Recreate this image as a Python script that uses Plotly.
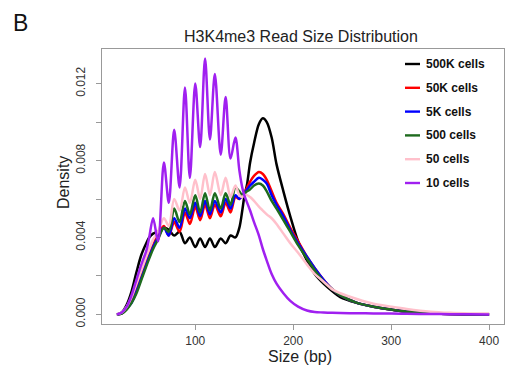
import plotly.graph_objects as go

size_bp = [20, 25, 30, 35, 40, 45, 50, 53, 57, 62, 68, 73, 78.5, 84, 89.5, 94.5, 100, 105, 110, 115,
           120, 126, 131, 136, 141, 145, 148, 150, 153, 156, 160, 165, 169, 173, 178, 183, 190, 197,
           205, 214, 222, 231, 240, 248, 265, 282, 300, 316, 340, 360, 380, 400]

d_500k = [0, 0.0001, 0.0005, 0.0012, 0.0022, 0.0031, 0.0037, 0.0040, 0.0042, 0.0043, 0.0045, 0.0044,
          0.0041, 0.0043, 0.0037, 0.0040, 0.0035, 0.00395, 0.0035, 0.00395, 0.0035, 0.00395, 0.0037,
          0.0041, 0.0040, 0.0045, 0.0054, 0.0061, 0.0068, 0.0079, 0.0089, 0.0099, 0.0102, 0.0100,
          0.0092, 0.0078, 0.0064, 0.0051, 0.0038, 0.0028, 0.0021, 0.0016, 0.0012, 0.0009, 0.0006,
          0.0004, 0.00025, 0.00014, 0.00006, 0.00002, 0.00001, 0]

d_50k = [0, 0.00005, 0.0003, 0.0007, 0.0013, 0.0020, 0.0027, 0.0031, 0.0036, 0.0042, 0.0046, 0.0041,
         0.0048, 0.0043, 0.0053, 0.0047, 0.0056, 0.0049, 0.0057, 0.0050, 0.0057, 0.0051, 0.0058,
         0.0053, 0.0061, 0.0060, 0.0062, 0.0063, 0.0066, 0.0069, 0.0072, 0.0074, 0.0073, 0.0070,
         0.0064, 0.0058, 0.0052, 0.0045, 0.0038, 0.0030, 0.0024, 0.0018, 0.0013, 0.0010, 0.0006,
         0.0004, 0.00025, 0.00014, 0.00006, 0.00002, 0.00001, 0]

d_5k = [0, 0.00005, 0.0003, 0.0006, 0.0012, 0.0019, 0.0026, 0.0030, 0.0035, 0.0040, 0.0045, 0.0041,
        0.0050, 0.0045, 0.0055, 0.0050, 0.0058, 0.0051, 0.0059, 0.0052, 0.0059, 0.0053, 0.0060,
        0.0055, 0.0062, 0.0060, 0.0062, 0.0063, 0.0065, 0.0067, 0.0069, 0.0071, 0.0070, 0.0068,
        0.0062, 0.0057, 0.0051, 0.0044, 0.0037, 0.0030, 0.0024, 0.0018, 0.0013, 0.0010, 0.0006,
        0.0004, 0.00025, 0.00014, 0.00006, 0.00002, 0.00001, 0]

d_500 = [0, 0.00004, 0.00025, 0.0006, 0.0011, 0.0018, 0.0025, 0.0029, 0.0034, 0.0039, 0.0045, 0.0043,
         0.0055, 0.0048, 0.0059, 0.0052, 0.0062, 0.0053, 0.0063, 0.0054, 0.0063, 0.0055, 0.0063,
         0.0057, 0.0066, 0.0064, 0.0062, 0.0063, 0.0064, 0.0065, 0.0067, 0.0068, 0.0067, 0.0064,
         0.0059, 0.0055, 0.0049, 0.0043, 0.0036, 0.0029, 0.0023, 0.0017, 0.0013, 0.0010, 0.0006,
         0.0004, 0.00025, 0.00014, 0.00006, 0.00002, 0.00001, 0]

d_50 = [0, 0.0001, 0.0004, 0.0009, 0.0016, 0.0023, 0.0030, 0.0034, 0.0039, 0.0043, 0.0050, 0.0046,
        0.0060, 0.0054, 0.0066, 0.0058, 0.0070, 0.0060, 0.0073, 0.0062, 0.0074, 0.0062, 0.0071,
        0.0061, 0.0067, 0.0062, 0.0061, 0.0062, 0.0062, 0.0061, 0.0059, 0.0056, 0.0054, 0.0052,
        0.0050, 0.0047, 0.0042, 0.0037, 0.0032, 0.0026, 0.0021, 0.0017, 0.0013, 0.0011, 0.0008,
        0.00055, 0.0004, 0.00028, 0.00014, 0.00008, 0.00005, 0.00004]

d_10 = [0, 0.0001, 0.0004, 0.0010, 0.0018, 0.0026, 0.0033, 0.0040, 0.0050, 0.0038, 0.0079, 0.0058,
        0.0096, 0.0066, 0.0118, 0.0071, 0.0120, 0.0087, 0.0133, 0.0091, 0.0125, 0.0083, 0.0113,
        0.0081, 0.0092, 0.0075, 0.0066, 0.0062, 0.0058, 0.0054, 0.0048, 0.0041, 0.0034, 0.0028,
        0.0021, 0.0016, 0.0011, 0.0007, 0.0004, 0.0002, 0.00012, 0.0001, 0.00008, 0.00007, 0.00006,
        0.00005, 0.00004, 0.00003, 0.00002, 0.00001, 0.00001, 0]

series_names = ["500K cells", "50K cells", "5K cells", "500 cells", "50 cells", "10 cells"]
series_values = [d_500k, d_50k, d_5k, d_500, d_50, d_10]
series_colors = ["#000000", "#FF0000", "#0000FF", "#1E6B1E", "#FFC0CB", "#A020F0"]

y_ticks = [0, 0.002, 0.004, 0.006, 0.008, 0.010, 0.012]
y_tick_labels = ["0.000", "", "0.004", "", "0.008", "", "0.012"]
x_ticks = [100, 200, 300, 400]

FONT = "Liberation Sans, Arial, Helvetica, sans-serif"

fig = go.Figure()
for name, vals, col in zip(series_names, series_values, series_colors):
    fig.add_trace(go.Scatter(x=size_bp, y=vals, mode="lines", name=name,
                             line=dict(color=col, width=2.5, shape="spline", smoothing=0.9),
                             showlegend=False))

W, H = 507, 366
L, R, T, B = 102, 3, 49, 42
pw, ph = W - L - R, H - T - B

def px(xp):
    return (xp - L) / pw

def py(yp):
    return (H - B - yp) / ph

shapes = []
annotations = []
for i, (name, col) in enumerate(zip(series_names, series_colors)):
    yy = py(64 + i * 23.8)
    shapes.append(dict(type="line", xref="paper", yref="paper", x0=px(405), x1=px(420), y0=yy, y1=yy,
                       line=dict(color=col, width=2.4)))
    annotations.append(dict(xref="paper", yref="paper", x=px(424), y=yy, text="<b>" + name + "</b>",
                            showarrow=False, xanchor="left", yanchor="middle",
                            font=dict(family=FONT, size=12, color="#111")))

annotations.append(dict(xref="paper", yref="paper", x=px(11), y=py(23), text="B", showarrow=False,
                        xanchor="left", yanchor="middle", font=dict(family=FONT, size=23, color="#111")))
annotations.append(dict(xref="paper", yref="paper", x=px(301), y=py(37),
                        text="H3K4me3 Read Size Distribution", showarrow=False,
                        xanchor="center", yanchor="middle", font=dict(family=FONT, size=16, color="#222")))
annotations.append(dict(xref="paper", yref="paper", x=px(63), y=py(183), text="Density", showarrow=False,
                        textangle=-90, xanchor="center", yanchor="middle",
                        font=dict(family=FONT, size=16, color="#222")))
annotations.append(dict(xref="paper", yref="paper", x=px(300), y=py(356), text="Size (bp)", showarrow=False,
                        xanchor="center", yanchor="middle", font=dict(family=FONT, size=16, color="#222")))

fig.update_layout(
    width=W, height=H,
    margin=dict(l=L, r=R, t=T, b=B),
    paper_bgcolor="white", plot_bgcolor="white",
    font=dict(family=FONT, size=11, color="#333"),
    shapes=shapes, annotations=annotations,
    showlegend=False,
)
fig.update_xaxes(range=[4.8, 415.2], tickvals=x_ticks, ticks="outside", ticklen=5, tickcolor="#999",
                 showline=True, linecolor="#999", linewidth=1, mirror=True, showgrid=False, zeroline=False,
                 automargin=False, ticklabelstandoff=1,
                 tickfont=dict(size=12, color="#333"))
fig.update_yaxes(range=[-0.0005, 0.0138], tickvals=y_ticks, ticktext=y_tick_labels, ticks="outside",
                 ticklen=5, tickcolor="#999", tickangle=-90, automargin=False, ticklabelstandoff=6,
                 showline=True, linecolor="#999", linewidth=1, mirror=True, showgrid=False, zeroline=False,
                 tickfont=dict(size=12, color="#333"))

fig.write_html("out.html", config={"displayModeBar": False},
               post_script="document.body.style.margin='0';document.body.style.padding='0';")
